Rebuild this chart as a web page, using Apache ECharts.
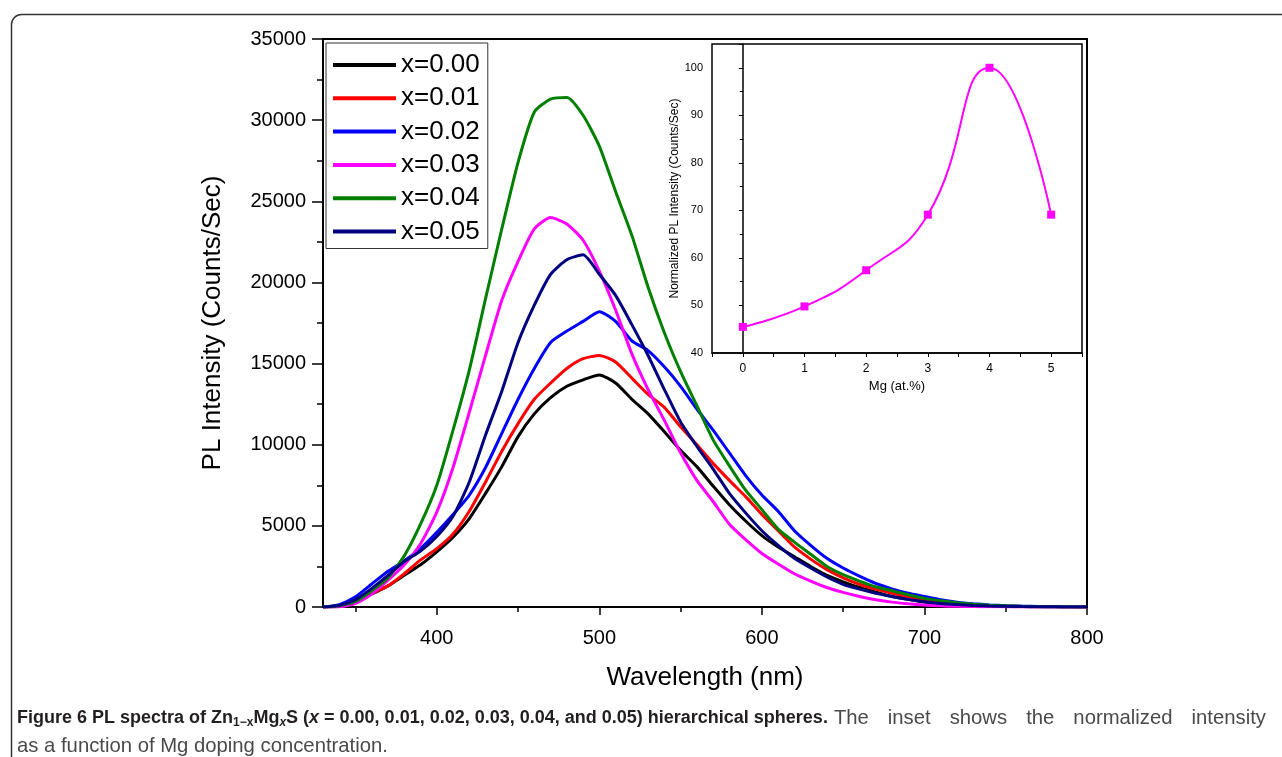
<!DOCTYPE html>
<html>
<head>
<meta charset="utf-8">
<script src="https://cdn.jsdelivr.net/npm/echarts@6/dist/echarts.min.js"></script>
<style>
  html, body { margin: 0; padding: 0; background: #fff; }
  #chart { width: 1282px; height: 757px; }
</style>
</head>
<body>
<div id="chart"></div>
<script>
// wavelength (nm), every 10 nm
var wavelength = [330, 340, 350, 360, 370, 380, 390, 400, 410, 420, 430, 440, 450, 460, 470, 480,
  490, 500, 510, 520, 530, 540, 550, 560, 570, 580, 590, 600, 610, 620, 630, 640,
  650, 660, 670, 680, 690, 700, 710, 720, 730, 740, 750, 760, 770, 780, 790, 800];

var x000 = [0, 50, 240, 800, 1300, 1950, 2600, 3400, 4300, 5450, 7000, 8650, 10500, 11900, 12900, 13600,
  14000, 14300, 13800, 12800, 11900, 10800, 9650, 8650, 7450, 6300, 5300, 4400, 3700, 3100, 2500, 1950,
  1550, 1200, 920, 650, 480, 310, 200, 140, 90, 60, 40, 25, 15, 10, 5, 0];
var x001 = [0, 60, 300, 830, 1300, 2050, 2900, 3600, 4500, 5900, 7700, 9600, 11300, 12800, 13800, 14700,
  15300, 15500, 15100, 14100, 13100, 12300, 11100, 10000, 8850, 7800, 6800, 5700, 4700, 3700, 2950, 2300,
  1800, 1400, 1100, 850, 630, 450, 300, 200, 130, 80, 50, 30, 20, 10, 5, 0];
var x002 = [0, 150, 630, 1420, 2200, 2850, 3600, 4600, 5700, 6900, 8600, 10700, 12800, 14700, 16300, 17000,
  17600, 18200, 17600, 16400, 15800, 14800, 13600, 12200, 10900, 9500, 8100, 6900, 5900, 4700, 3800, 3000,
  2400, 1900, 1450, 1120, 850, 650, 450, 300, 200, 130, 80, 50, 30, 15, 8, 0];
var x003 = [0, 20, 230, 800, 1650, 2600, 3900, 5850, 8600, 12000, 15500, 18900, 21300, 23300, 24000, 23600,
  22600, 20700, 18300, 15600, 13400, 11500, 9500, 7800, 6500, 5100, 4150, 3300, 2650, 2050, 1600, 1200,
  900, 650, 450, 300, 200, 120, 70, 40, 25, 15, 10, 5, 0, 0, 0, 0];
var x004 = [0, 80, 340, 1000, 1800, 3150, 5100, 7500, 10900, 14600, 19000, 23300, 27400, 30500, 31300, 31400,
  30300, 28400, 25600, 22900, 19700, 16900, 14500, 12400, 10300, 8700, 7200, 6000, 4800, 4000, 3250, 2500,
  2000, 1600, 1250, 1000, 750, 530, 380, 260, 170, 110, 70, 40, 25, 15, 8, 0];
var x005 = [0, 100, 450, 1150, 1950, 2800, 3450, 4350, 5600, 7700, 10600, 13300, 16300, 18600, 20500, 21400,
  21700, 20500, 19200, 17400, 15500, 13400, 11400, 9900, 8500, 7000, 5800, 4700, 3800, 3000, 2400, 1850,
  1400, 1100, 850, 650, 470, 330, 220, 150, 100, 60, 40, 25, 15, 10, 5, 0];

var seriesNames = ['x=0.00', 'x=0.01', 'x=0.02', 'x=0.03', 'x=0.04', 'x=0.05'];
var seriesValues = [x000, x001, x002, x003, x004, x005];
var seriesColors = ['#000000', '#ff0000', '#0000ff', '#ff00ff', '#008000', '#000080'];

// inset: normalized PL intensity vs Mg content
var insetMg = [0, 1, 2, 3, 4, 5];
var insetNorm = [45.5, 49.8, 57.4, 69.1, 100, 69.1];

var xMajorTicks = [400, 500, 600, 700, 800];
var xMinorTicks = [350, 450, 550, 650, 750];

var chart = echarts.init(document.getElementById('chart'));

var FONT = 'Liberation Sans';

var mainSeries = seriesNames.map(function (name, k) {
  return {
    name: name,
    type: 'line',
    xAxisIndex: 0,
    yAxisIndex: 0,
    showSymbol: false,
    symbol: 'none',
    smooth: 0.2,
    z: 2,
    lineStyle: { color: seriesColors[k], width: 3 },
    itemStyle: { color: seriesColors[k] },
    data: wavelength.map(function (w, i) { return [w, seriesValues[k][i]]; })
  };
});

// caption: the first line is justified in the original, so widen the spaces of its plain part
var captionPlain = 'The inset shows the normalized intensity';
var plainTokens = '{sp0| }' + captionPlain.split(' ').map(function (w) { return '{n|' + w + '}'; }).join('{sp| }');

var option = {
  animation: false,
  backgroundColor: '#fff',
  textStyle: { fontFamily: FONT, color: '#000' },
  grid: [
    { left: 323, top: 39, width: 764, height: 568, show: true, borderColor: '#000', borderWidth: 2,
      backgroundColor: 'transparent', containLabel: false },
    { left: 712, top: 44, width: 370, height: 309, show: true, borderColor: '#000', borderWidth: 1.5,
      backgroundColor: '#fff', z: 5 }
  ],
  legend: {
    data: seriesNames,
    orient: 'vertical',
    left: 326,
    top: 43,
    padding: [8, 8, 3, 7],
    itemWidth: 63,
    itemHeight: 4,
    itemGap: 5.3,
    icon: 'rect',
    backgroundColor: '#fff',
    borderColor: '#333',
    borderWidth: 1,
    textStyle: { fontFamily: FONT, fontSize: 26, lineHeight: 28, color: '#000' }
  },
  xAxis: [
    {
      type: 'value', gridIndex: 0, min: 330, max: 800, position: 'bottom',
      name: 'Wavelength (nm)', nameLocation: 'middle', nameGap: 58,
      nameTextStyle: { fontFamily: FONT, fontSize: 26, color: '#000' },
      axisLine: { show: true, lineStyle: { color: '#000', width: 2 } },
      axisTick: { show: true, inside: false, length: 8, customValues: xMajorTicks, lineStyle: { color: '#000', width: 1.5 } },
      axisLabel: { customValues: xMajorTicks, margin: 21, fontFamily: FONT, fontSize: 20, color: '#000' },
      splitLine: { show: false }
    },
    {
      type: 'value', gridIndex: 0, min: 330, max: 800, position: 'bottom',
      axisLine: { show: false },
      axisTick: { show: true, inside: false, length: 5, customValues: xMinorTicks, lineStyle: { color: '#000', width: 1.5 } },
      axisLabel: { show: false },
      splitLine: { show: false }
    },
    {
      type: 'value', gridIndex: 1, min: -0.5, max: 5.5, interval: 0.5, z: 6,
      name: 'Mg (at.%)', nameLocation: 'middle', nameGap: 27,
      nameTextStyle: { fontFamily: FONT, fontSize: 13, color: '#000' },
      axisLine: { show: true, lineStyle: { color: '#000', width: 1.5 } },
      axisTick: { show: true, inside: false, length: 4, lineStyle: { color: '#000', width: 1 } },
      axisLabel: {
        margin: 10, fontFamily: FONT, fontSize: 12, color: '#000',
        formatter: function (v) { return (Math.abs(v % 1) < 1e-9) ? String(v) : ''; }
      },
      splitLine: { show: false }
    }
  ],
  yAxis: [
    {
      type: 'value', gridIndex: 0, min: 0, max: 35000, interval: 5000,
      name: 'PL Intensity (Counts/Sec)', nameLocation: 'middle', nameGap: 97,
      nameTextStyle: { fontFamily: FONT, fontSize: 26, color: '#000' },
      axisLine: { show: true, lineStyle: { color: '#000', width: 2 } },
      axisTick: { show: true, inside: false, length: 11, lineStyle: { color: '#000', width: 1.5 } },
      minorTick: { show: true, splitNumber: 2, length: 6, lineStyle: { color: '#000', width: 1.5 } },
      axisLabel: {
        margin: 17, fontFamily: FONT, fontSize: 20, color: '#000',
        formatter: function (v) { return String(v); }
      },
      splitLine: { show: false }
    },
    {
      type: 'value', gridIndex: 1, min: 40, max: 105, interval: 10, z: 6,
      name: 'Normalized PL Intensity (Counts/Sec)', nameLocation: 'middle', nameGap: 29,
      nameTextStyle: { fontFamily: FONT, fontSize: 12, color: '#000' },
      axisLine: { show: true, lineStyle: { color: '#000', width: 1.5 } },
      axisTick: { show: true, inside: false, length: 4, lineStyle: { color: '#000', width: 1 } },
      minorTick: { show: true, splitNumber: 2, length: 3, lineStyle: { color: '#000', width: 1 } },
      axisLabel: {
        margin: 9, fontFamily: FONT, fontSize: 11, color: '#000', showMaxLabel: false,
        formatter: function (v) { return (v % 10 === 0) ? String(v) : ''; }
      },
      splitLine: { show: false }
    }
  ],
  series: mainSeries.concat([{
    name: 'inset',
    type: 'line',
    xAxisIndex: 2,
    yAxisIndex: 1,
    z: 7,
    smooth: 0.5,
    symbol: 'rect',
    symbolSize: 8,
    showSymbol: true,
    lineStyle: { color: '#ff00ff', width: 2 },
    itemStyle: { color: '#ff00ff' },
    data: insetMg.map(function (m, i) { return [m, insetNorm[i]]; })
  }]),
  graphic: [
    {
      type: 'rect', left: 9, top: 12, silent: true, z: 0,
      shape: { width: 1300, height: 800, r: 10 },
      style: { fill: 'none', stroke: '#333', lineWidth: 1.5 }
    },
    {
      type: 'text', left: 17, top: 708, z: 10,
      style: {
        text: '{b|Figure 6 PL spectra of Zn}{bs|1\u2212x}{b|Mg}{bsi|x}{b|S (}{bi|x}{b| = 0.00, 0.01, 0.02, 0.03, 0.04, and 0.05) hierarchical spheres.}' + plainTokens,
        rich: {
          b: { fontFamily: FONT, fontSize: 18, fontWeight: 'bold', fill: '#231f20', lineHeight: 24 },
          bi: { fontFamily: FONT, fontSize: 18, fontWeight: 'bold', fontStyle: 'italic', fill: '#231f20', lineHeight: 24 },
          bs: { fontFamily: FONT, fontSize: 12, fontWeight: 'bold', fill: '#231f20', lineHeight: 24, padding: [9, 0, 0, 0] },
          bsi: { fontFamily: FONT, fontSize: 12, fontWeight: 'bold', fontStyle: 'italic', fill: '#231f20', lineHeight: 24, padding: [9, 0, 0, 0] },
          n: { fontFamily: FONT, fontSize: 20.3, fill: '#4a4a4a', lineHeight: 24 },
          sp0: { fontFamily: FONT, fontSize: 20.3, fill: '#4a4a4a', lineHeight: 24, width: 6 },
          sp: { fontFamily: FONT, fontSize: 20.3, fill: '#4a4a4a', lineHeight: 24, width: 19 }
        }
      }
    },
    {
      type: 'text', left: 17, top: 736, z: 10,
      style: { text: 'as a function of Mg doping concentration.', fontFamily: FONT, fontSize: 20.3, fill: '#4a4a4a' }
    }
  ]
};

chart.setOption(option);
</script>
</body>
</html>
